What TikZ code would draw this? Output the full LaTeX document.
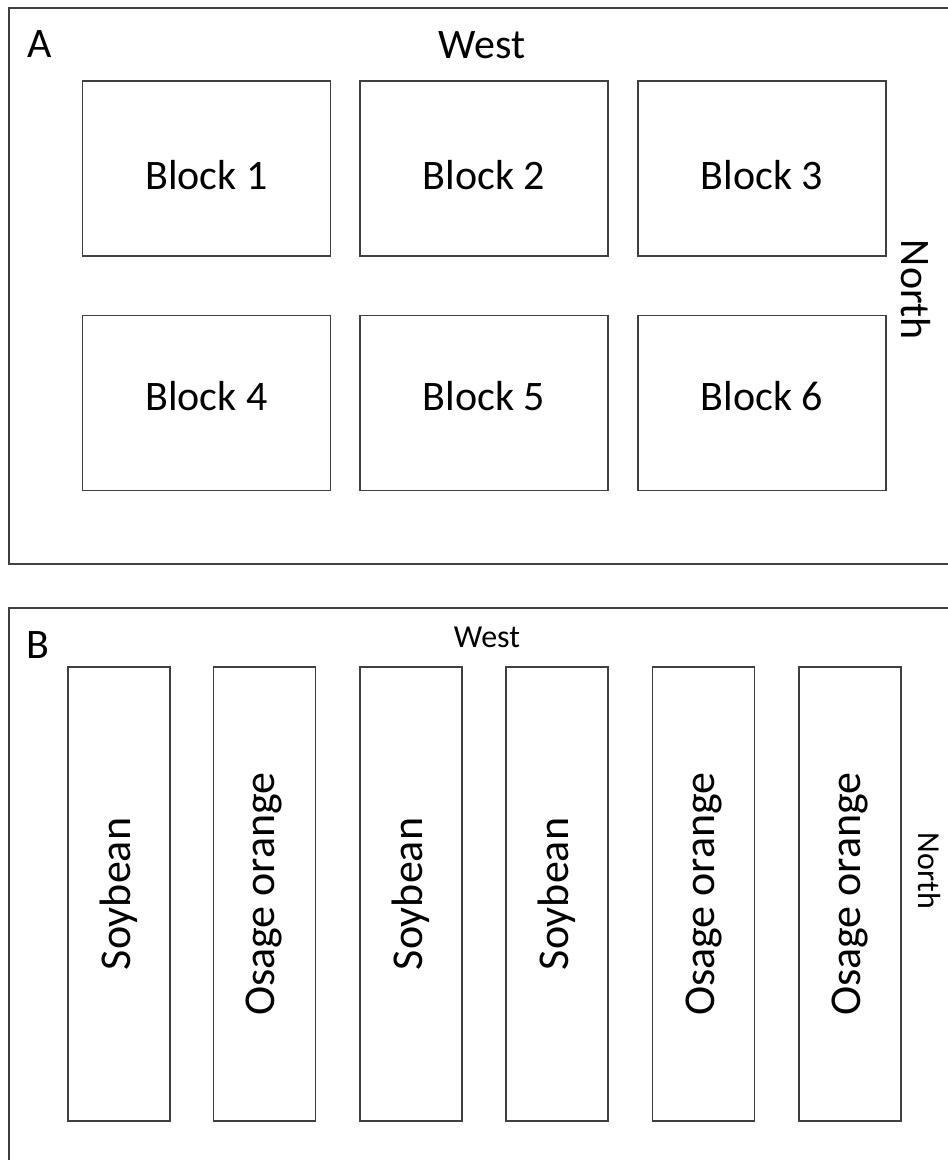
\documentclass[tikz,border=0pt]{standalone}
\usepackage{fontspec}
\setmainfont{Carlito}
\begin{document}
\begin{tikzpicture}[x=1pt,y=-1pt,
  frame/.style={draw=black!75,line width=1.7pt},
  blockbox/.style={frame,minimum width=248pt,minimum height=175pt,inner sep=0pt},
  blocktext/.style={inner sep=0pt,font=\fontsize{42}{48}\selectfont},
  strip/.style={frame,minimum width=102pt,minimum height=454pt,inner sep=0pt},
  striplabel/.style={rotate=90,font=\fontsize{44}{50}\selectfont},
  big/.style={font=\fontsize{42}{48}\selectfont,inner sep=0pt},
  small/.style={font=\fontsize{32}{38}\selectfont,inner sep=0pt}]
\useasboundingbox (0,0) rectangle (948,1160);
\clip (0,0) rectangle (948,1160);
% Panel A
\draw[frame] (980,8) -- (9,8) -- (9,564) -- (980,564);
\node[big] (labA) at (40,44) {A};
\node[big] (westA) at (482,45) {West};
\node[big,rotate=-90] (northA) at (916,290) {North};
\node[blockbox] (b1) at (206.5,168.5) {};
\node[blockbox] (b2) at (484,168.5) {};
\node[blockbox] (b3) at (762,168.5) {};
\node[blockbox] (b4) at (206.5,403) {};
\node[blockbox] (b5) at (484,403) {};
\node[blockbox] (b6) at (762,403) {};
\node[blocktext,yshift=-7pt] (l1) at (b1) {Block 1};
\node[blocktext,yshift=-7pt] (l2) at (b2) {Block 2};
\node[blocktext,yshift=-7pt] (l3) at (b3) {Block 3};
\node[blocktext,yshift=7pt] (l4) at (b4) {Block 4};
\node[blocktext,yshift=7pt] (l5) at (b5) {Block 5};
\node[blocktext,yshift=7pt] (l6) at (b6) {Block 6};
% Panel B
\draw[frame] (980,608) -- (9,608) -- (9,1190);
\node[big] (labB) at (38,645) {B};
\node[small] (westB) at (487,637) {West};
\node[small,rotate=-90] (northB) at (929,871) {North};
\node[strip] (s1) at (119,894) {};
\node[strip] (s2) at (264.5,894) {};
\node[strip] (s3) at (411,894) {};
\node[strip] (s4) at (557,894) {};
\node[strip] (s5) at (703.5,894) {};
\node[strip] (s6) at (850,894) {};
\node[striplabel] (t1) at (s1) {Soybean};
\node[striplabel] (t2) at (s2) {Osage orange};
\node[striplabel] (t3) at (s3) {Soybean};
\node[striplabel] (t4) at (s4) {Soybean};
\node[striplabel] (t5) at (s5) {Osage orange};
\node[striplabel] (t6) at (s6) {Osage orange};
\end{tikzpicture}
\end{document}
